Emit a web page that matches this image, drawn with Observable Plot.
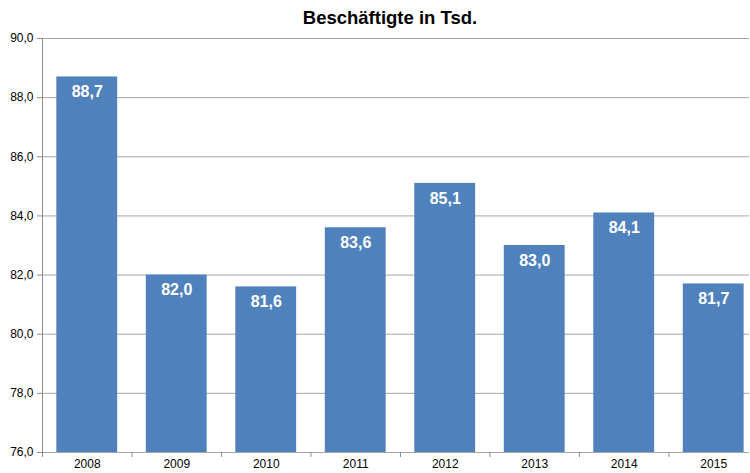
<!DOCTYPE html>
<html><head><meta charset="utf-8">
<script src="https://cdn.jsdelivr.net/npm/d3@7"></script>
<script src="https://cdn.jsdelivr.net/npm/@observablehq/plot@0.6"></script>
<style>
body{margin:0;background:#fff;font-family:"Liberation Sans",Arial,sans-serif;}
#title{height:30px;width:750px;text-align:center;font-weight:bold;font-size:18.5px;line-height:36px;color:#000;padding-left:30px;box-sizing:border-box;}
</style></head><body>
<div id="title">Beschäftigte in Tsd.</div>
<div id="chart"></div>
<script>
const years = [2008, 2009, 2010, 2011, 2012, 2013, 2014, 2015];
const values = [88.7, 82.0, 81.6, 83.6, 85.1, 83.0, 84.1, 81.7];
const yTicks = [76, 78, 80, 82, 84, 86, 88, 90];

const data = years.map((y, i) => ({year: y, value: values[i]}));
const boundaries = years.map(y => y - 0.5);
const fmt = v => v.toFixed(1).replace(".", ",");
const half = 0.34;

const chart = Plot.plot({
  width: 750,
  height: 443,
  marginTop: 8,
  marginBottom: 21,
  marginLeft: 42,
  marginRight: 1,
  style: {fontFamily: '"Liberation Sans", Arial, sans-serif', background: "#fff"},
  x: {type: "linear", domain: [2007.5, 2015.4]},
  y: {domain: [76, 90]},
  marks: [
    Plot.gridY(yTicks, {stroke: "#a6a6a6", strokeOpacity: 1, strokeWidth: 1}),
    Plot.rectY(data, {x1: d => d.year - half, x2: d => d.year + half, y1: 76, y2: "value", fill: "#4F81BD"}),
    Plot.ruleX([2007.5], {y1: 76, y2: 90, stroke: "#8c8c8c"}),
    Plot.axisY(yTicks, {tickSize: 5, tickPadding: 4, stroke: "#8c8c8c", tickFormat: fmt, fontSize: 12, fill: "#000", label: null}),
    Plot.axisX(boundaries, {tickSize: 5, stroke: "#8c8c8c", tickFormat: () => "", label: null}),
    Plot.axisX(years, {tickSize: 0, tickPadding: 7, tickFormat: d => String(d), fontSize: 12, fill: "#000", label: null}),
    Plot.text(data, {x: "year", y: "value", text: d => fmt(d.value), dy: 15, fill: "#fff", fontSize: 16, fontWeight: "bold"})
  ]
});
document.getElementById("chart").appendChild(chart);
</script>
</body></html>
